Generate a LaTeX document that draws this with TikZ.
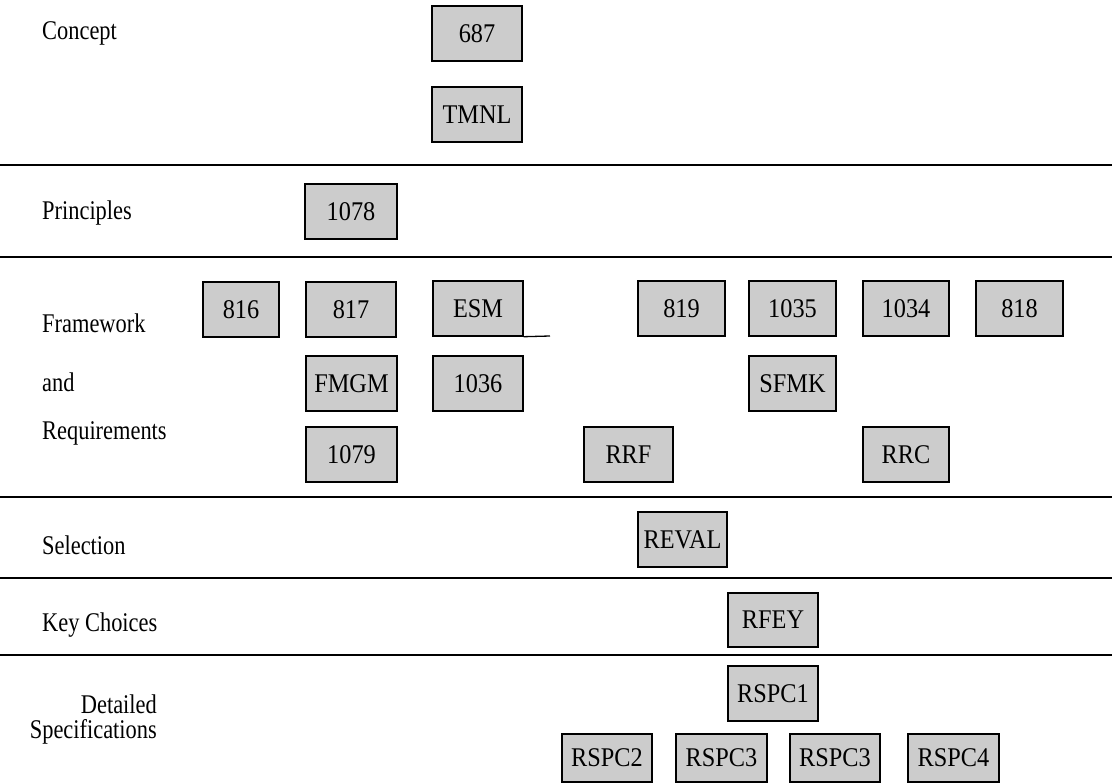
\documentclass[tikz,border=0pt]{standalone}
\usepackage{fontspec}
\setmainfont{Liberation Serif}
\newfontfamily\lblfont[FakeStretch=0.83]{Liberation Serif}
\newfontfamily\boxfont[FakeStretch=0.9]{Liberation Serif}
\begin{document}
\begin{tikzpicture}[x=1pt,y=-1pt,
  bx/.style={draw=black,line width=1.4pt,fill=black!20,inner sep=0pt,
    font=\boxfont\fontsize{27}{30}\selectfont,anchor=center},
  lbl/.style={anchor=west,inner sep=0pt,font=\lblfont\fontsize{27}{30}\selectfont},
  sep/.style={line width=1.3pt}]
\useasboundingbox (0,0) rectangle (1112,784);
% separators
\coordinate (s1l) at (0,165); \coordinate (s1r) at (1112,165);
\coordinate (s2l) at (0,257); \coordinate (s2r) at (1112,257);
\coordinate (s3l) at (0,497); \coordinate (s3r) at (1112,497);
\coordinate (s4l) at (0,578); \coordinate (s4r) at (1112,578);
\coordinate (s5l) at (0,655); \coordinate (s5r) at (1112,655);
\draw[sep] (s1l) -- (s1r);
\draw[sep] (s2l) -- (s2r);
\draw[sep] (s3l) -- (s3r);
\draw[sep] (s4l) -- (s4r);
\draw[sep] (s5l) -- (s5r);
% labels
\node[lbl] (lconcept) at (42,33) {Concept};
\node[lbl] (lprin) at (42,213) {Principles};
\node[lbl] (lframe) at (42,323) {Framework};
\node[lbl] (land) at (42,382) {and};
\node[lbl] (lreq) at (42,433) {Requirements};
\node[lbl] (lsel) at (42,545) {Selection};
\node[lbl] (lkey) at (42,625) {Key Choices};
\node[lbl,anchor=east,align=right,font=\lblfont\fontsize{27}{25}\selectfont] (ldet) at (157,719.5) {Detailed\\Specifications};
% boxes
\node[bx,minimum width=90pt,minimum height=55pt] (b687) at (477,33.5) {687};
\node[bx,minimum width=90pt,minimum height=55pt] (tmnl) at (477,114.5) {TMNL};
\node[bx,minimum width=92pt,minimum height=55pt] (b1078) at (351,211.5) {1078};
\node[bx,minimum width=76pt,minimum height=55pt] (b816) at (241,309.5) {816};
\node[bx,minimum width=90pt,minimum height=55pt] (b817) at (351,309.5) {817};
\node[bx,minimum width=90pt,minimum height=55pt] (esm) at (478,308.5) {ESM};
\node[bx,minimum width=87pt,minimum height=55pt] (b819) at (681.5,308.5) {819};
\node[bx,minimum width=87pt,minimum height=55pt] (b1035) at (792.5,308.5) {1035};
\node[bx,minimum width=86pt,minimum height=55pt] (b1034) at (906,308.5) {1034};
\node[bx,minimum width=87pt,minimum height=55pt] (b818) at (1019.5,308.5) {818};
\node[bx,minimum width=91pt,minimum height=55pt] (fmgm) at (351.5,383.5) {FMGM};
\node[bx,minimum width=90pt,minimum height=55pt] (b1036) at (478,383.5) {1036};
\node[bx,minimum width=87pt,minimum height=55pt] (sfmk) at (792.5,383.5) {SFMK};
\node[bx,minimum width=91pt,minimum height=55pt] (b1079) at (351.5,454.5) {1079};
\node[bx,minimum width=89pt,minimum height=55pt] (rrf) at (628.5,454.5) {RRF};
\node[bx,minimum width=86pt,minimum height=55pt] (rrc) at (906,454.5) {RRC};
\node[bx,minimum width=89pt,minimum height=55pt] (reval) at (682.5,539.5) {REVAL};
\node[bx,minimum width=90pt,minimum height=54pt] (rfey) at (773,620) {RFEY};
\node[bx,minimum width=90pt,minimum height=55pt] (rspc1) at (773,693.5) {RSPC1};
\node[bx,minimum width=90pt,minimum height=48pt] (rspc2) at (607,758) {RSPC2};
\node[bx,minimum width=91pt,minimum height=48pt] (rspc3a) at (721.5,758) {RSPC3};
\node[bx,minimum width=90pt,minimum height=48pt] (rspc3b) at (835,758) {RSPC3};
\node[bx,minimum width=91pt,minimum height=48pt] (rspc4) at (953.5,758) {RSPC4};
% ESM underline stub
\coordinate (esmend) at (550,336);
\draw[line width=1.3pt] (esm.south east) -- (esmend);
\end{tikzpicture}
\end{document}
